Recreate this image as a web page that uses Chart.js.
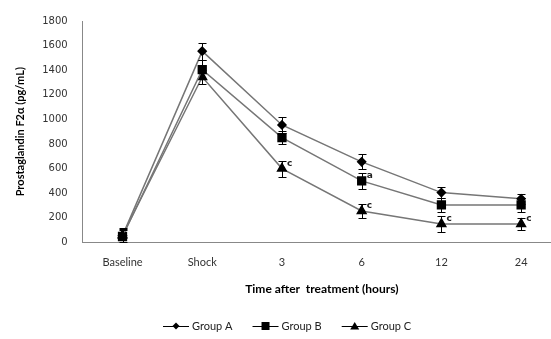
<!DOCTYPE html>
<html>
<head>
<meta charset="utf-8">
<script src="https://cdn.jsdelivr.net/npm/chart.js@4.4.0/dist/chart.umd.min.js"></script>
<style>
  html, body { margin: 0; padding: 0; background: #fff; overflow: hidden; }
  #wrap { width: 551px; height: 339px; overflow: hidden; }
</style>
</head>
<body>
<div id="wrap"><canvas id="myChart" width="568" height="339"></canvas></div>
<script>
// data
const categories = ["Baseline", "Shock", "3", "6", "12", "24"];
const groupA = [55, 1555, 955, 655, 405, 355];
const groupB = [48, 1405, 852, 500, 305, 305];
const groupC = [58, 1345, 600, 255, 150, 150];
const errA = [60, 70, 65, 62, 45, 40];
const errB = [55, 75, 55, 65, 55, 55];
const errC = [55, 60, 65, 58, 62, 52];
const marksB = ["", "", "", "a", "", ""];
const marksC = ["", "", "c", "c", "c", "c"];

const lineColor = "#767676";

const errorBars = {
  id: "errorBars",
  afterDatasetsDraw(chart) {
    const ctx = chart.ctx;
    const y = chart.scales.y;
    const errs = [errA, errB, errC];
    ctx.save();
    ctx.strokeStyle = "#000";
    ctx.lineWidth = 1;
    chart.data.datasets.forEach((ds, i) => {
      const meta = chart.getDatasetMeta(i);
      meta.data.forEach((pt, j) => {
        const v = ds.data[j];
        const e = errs[i][j];
        const x = Math.round(pt.x) + 0.5;
        const top = Math.round(y.getPixelForValue(v + e)) + 0.5;
        const bot = Math.round(y.getPixelForValue(Math.max(v - e, 0))) + 0.5;
        ctx.beginPath();
        ctx.moveTo(x, top); ctx.lineTo(x, bot);
        ctx.moveTo(x - 4, top); ctx.lineTo(x + 4, top);
        if (v - e > 0) { ctx.moveTo(x - 4, bot); ctx.lineTo(x + 4, bot); }
        ctx.stroke();
      });
    });
    // significance letters
    ctx.fillStyle = "#222";
    ctx.font = "bold 9px 'DejaVu Sans'";
    ctx.textBaseline = "middle";
    [[1, marksB], [2, marksC]].forEach(([i, marks]) => {
      const meta = chart.getDatasetMeta(i);
      marks.forEach((m, j) => {
        if (!m) return;
        const pt = meta.data[j];
        ctx.fillText(m, pt.x + 5, pt.y - 5);
      });
    });
    ctx.restore();
  }
};

const lineLegend = {
  id: "lineLegend",
  afterDraw(chart) {
    const ctx = chart.ctx;
    const items = chart.data.datasets;
    const yy = 326;
    ctx.save();
    ctx.font = "11px Lato";
    ctx.textBaseline = "middle";
    const lineW = 26, gap = 3, space = 20;
    let x = 163;
    items.forEach(d => {
      ctx.strokeStyle = "#000";
      ctx.lineWidth = 1;
      ctx.beginPath();
      ctx.moveTo(x, yy + 0.5); ctx.lineTo(x + lineW, yy + 0.5);
      ctx.stroke();
      ctx.fillStyle = "#000";
      const cx = x + lineW / 2;
      ctx.beginPath();
      if (d.pointStyle === "rectRot") {
        ctx.moveTo(cx, yy - 3.5); ctx.lineTo(cx + 3.5, yy); ctx.lineTo(cx, yy + 3.5); ctx.lineTo(cx - 3.5, yy);
      } else if (d.pointStyle === "rect") {
        ctx.rect(cx - 4, yy - 4, 8, 8);
      } else {
        ctx.moveTo(cx, yy - 4); ctx.lineTo(cx + 4.5, yy + 3.5); ctx.lineTo(cx - 4.5, yy + 3.5);
      }
      ctx.closePath();
      ctx.fill();
      ctx.fillStyle = "#222";
      ctx.fillText(d.label, x + lineW + gap, yy);
      x += lineW + gap + ctx.measureText(d.label).width + space;
    });
    ctx.restore();
  }
};

const myChart = new Chart("myChart", {
  type: "line",
  data: {
    labels: categories,
    datasets: [
      {
        label: "Group A",
        data: groupA,
        borderColor: lineColor,
        borderWidth: 1.5,
        pointStyle: "rectRot",
        pointRadius: 4,
        pointBackgroundColor: "#000",
        pointBorderColor: "#000",
      },
      {
        label: "Group B",
        data: groupB,
        borderColor: lineColor,
        borderWidth: 1.5,
        pointStyle: "rect",
        pointRadius: 5.5,
        pointBackgroundColor: "#000",
        pointBorderColor: "#000",
      },
      {
        label: "Group C",
        data: groupC,
        borderColor: lineColor,
        borderWidth: 1.5,
        pointStyle: "triangle",
        pointRadius: 5,
        pointBackgroundColor: "#000",
        pointBorderColor: "#000",
      },
    ],
  },
  options: {
    responsive: false,
    animation: false,
    layout: { padding: { left: 14, right: 0, top: 10, bottom: 39 } },
    scales: {
      y: {
        min: 0,
        max: 1800,
        ticks: {
          stepSize: 200,
          color: "#333",
          font: { family: "DejaVu Sans", size: 10 },
          padding: 15,
          callback: (v) => String(v),
        },
        grid: { display: false, drawTicks: false },
        border: { color: "#888", width: 1 },
        title: {
          display: true,
          text: "Prostaglandin F2α (pg/mL)",
          color: "#000",
          font: { family: "Lato", size: 11, weight: "bold" },
          padding: { top: 0, bottom: 0 },
        },
      },
      x: {
        offset: true,
        ticks: {
          color: "#333",
          font: { family: "Lato", size: 11 },
          padding: 13,
        },
        grid: { display: false, drawTicks: false },
        border: { color: "#888", width: 1 },
        title: {
          display: true,
          text: "Time after  treatment (hours)",
          color: "#000",
          font: { family: "Lato", size: 12, weight: "bold" },
          padding: { top: 0 },
        },
      },
    },
    plugins: {
      legend: { display: false },
      tooltip: { enabled: false },
    },
  },
  plugins: [errorBars, lineLegend],
});
</script>
</body>
</html>
